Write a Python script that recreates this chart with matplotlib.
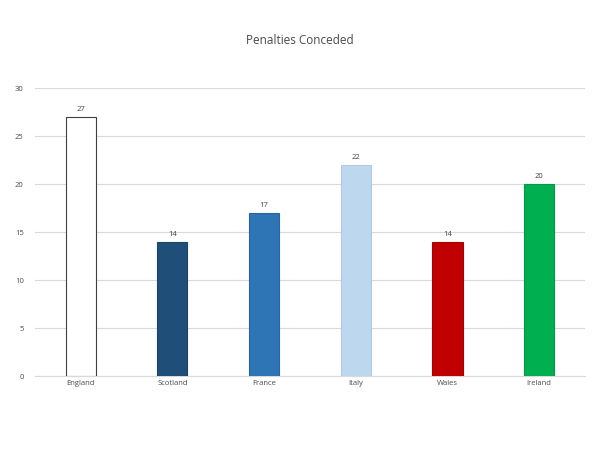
import numpy as np
import matplotlib.pyplot as plt

plt.rcParams['font.family'] = ['Open Sans', 'DejaVu Sans']

teams = ['England', 'Scotland', 'France', 'Italy', 'Wales', 'Ireland']
penalties = [27, 14, 17, 22, 14, 20]
colors = ['white', '#1F4E79', '#2E75B6', '#BDD7EE', '#C00000', '#00B050']
edges = ['#404040', '#1B4469', '#2966A0', '#B0CBE3', '#A80000', '#009A46']

fig = plt.figure(figsize=(6, 4.5), dpi=100)
ax = fig.add_axes([0.058, 0.164, 0.917, 0.64])

index = np.arange(len(teams))
bars = ax.bar(index, penalties, 0.33, color=colors, edgecolor=edges, linewidth=0.8, zorder=3)

ax.set_xlim(-0.5, len(teams) - 0.5)
ax.set_ylim(0, 30)
ax.set_yticks(range(0, 31, 5))
ax.set_xticks(index)
ax.set_xticklabels(teams)
ax.tick_params(axis='both', length=0, labelsize=5.5, labelcolor='#4A4A4A')
ax.tick_params(axis='y', pad=8)
ax.tick_params(axis='x', pad=3)
ax.grid(axis='y', color='#D9D9D9', linewidth=0.8, zorder=0)
for side in ['top', 'right', 'left']:
    ax.spines[side].set_visible(False)
ax.spines['bottom'].set_color('#D9D9D9')

for rect in bars:
    h = rect.get_height()
    ax.annotate('{}'.format(h),
                xy=(rect.get_x() + rect.get_width() / 2, h),
                xytext=(0, 3), textcoords='offset points',
                ha='center', va='bottom', fontsize=5.5, color='#404040')

fig.suptitle('Penalties Conceded', y=0.925, fontsize=8.5, color='#4A4A4A')

fig.savefig('out.png')
plt.close('all')
